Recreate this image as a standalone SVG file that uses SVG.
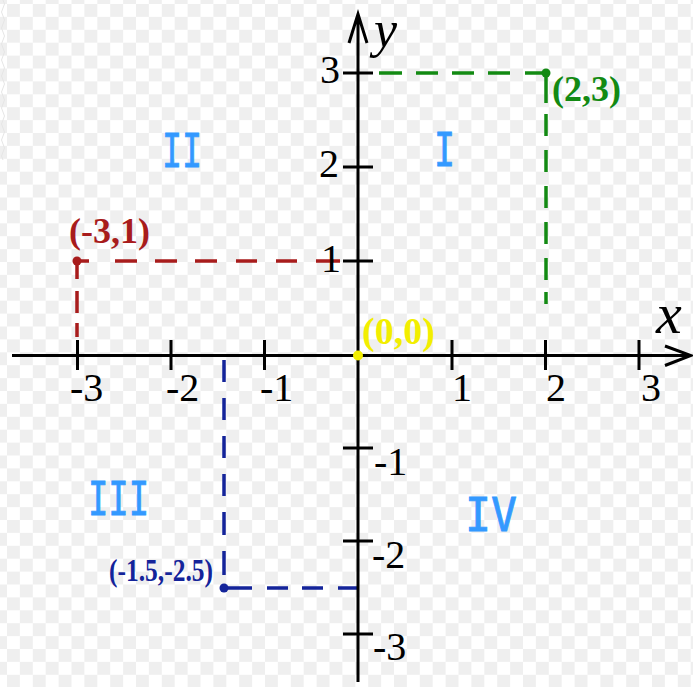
<svg xmlns="http://www.w3.org/2000/svg" width="693" height="687" viewBox="0 0 693 687">
<defs>
<pattern id="chk" x="7" y="4" width="25.8" height="25.8" patternUnits="userSpaceOnUse">
<rect x="0" y="0" width="12.9" height="12.9" fill="#efefef"/>
<rect x="12.9" y="12.9" width="12.9" height="12.9" fill="#efefef"/>
</pattern>
<style>
.ax{stroke:#000;stroke-width:3;fill:none}
.tk{font-family:"Liberation Serif","Times New Roman",serif;font-size:40px;fill:#000}
.var{font-family:"Liberation Serif","Times New Roman",serif;font-style:italic;font-size:58px;fill:#000}
.pt{font-family:"Liberation Serif","Times New Roman",serif;font-weight:bold;font-size:36px}
.q{font-family:"DejaVu Sans Mono",monospace;font-size:46px;fill:#3399ff;stroke:#3399ff;stroke-width:0.8}
.d{fill:none;stroke-width:3.5}
</style>
</defs>
<rect width="693" height="687" fill="#fff"/>
<rect width="693" height="687" fill="url(#chk)"/>
<path d="M3,0 q3,4 0,8 q-3,4 0,8 q3,4 0,8 q-3,4 0,8 q3,4 0,8 q-3,4 0,8 q3,4 0,8 q-3,4 0,8 q3,4 0,8 q-3,4 0,8 q3,4 0,8 q-3,4 0,8 q3,4 0,8 q-3,4 0,8 q3,4 0,8 q-3,4 0,8 q3,4 0,8 q-3,4 0,8 q3,4 0,8 q-3,4 0,8" fill="none" stroke="#e6e6e6" stroke-width="1"/>

<g id="connectors">
<path class="d" stroke="#138a13" d="M379,73H402M416,73H438M452,73H474M488,73H510M525,73H546M546,73V103M546,114V136M546,150V172M546,186V208M546,222V244M546,258V280M546,292V304"/>
<path class="d" stroke="#a81c1c" d="M77,261H89M115,261H137M155,261H177M195,261H217M236,261H257M276,261H297M316,261H340M77,261V279M77,291V313M77,323V337"/>
<path class="d" stroke="#14249a" d="M224,360V382M224,398V420M224,436V458M224,474V496M224,512V535M224,551V575M224,588H252M267,588H288M302,588H323M338,588H358"/>
</g>

<g id="axes">
<path class="ax" d="M12,355.5H690M665,346L691,355.5L665,365.5"/>
<path class="ax" d="M358,682V15M349,43L358,14L367,43"/>
<path class="ax" d="M77.5,340V370M171,340V370M264.5,340V370M452,340V370M545.5,340V370M639,340V370"/>
<path class="ax" d="M343,73H373M343,167H373M343,261H373M343,448H373M343,541H373M343,634H373"/>
</g>

<g id="axis-labels">
<text class="var" x="374" y="47" style="font-size:52px">y</text>
<text class="var" x="656" y="333">x</text>
</g>

<g id="tick-labels">
<text class="tk" x="70" y="401">-3</text>
<text class="tk" x="166" y="401">-2</text>
<text class="tk" x="260" y="401">-1</text>
<text class="tk" x="452" y="401">1</text>
<text class="tk" x="546" y="401">2</text>
<text class="tk" x="641" y="401">3</text>
<text class="tk" x="320" y="83">3</text>
<text class="tk" x="319" y="177">2</text>
<text class="tk" x="321" y="272">1</text>
<text class="tk" x="374" y="475">-1</text>
<text class="tk" x="372" y="568">-2</text>
<text class="tk" x="373" y="660">-3</text>
</g>

<g id="quadrant-I"><text class="q" x="434" y="166" textLength="21" lengthAdjust="spacingAndGlyphs">I</text></g>
<g id="quadrant-II"><text class="q" x="162" y="167" textLength="40" lengthAdjust="spacingAndGlyphs">II</text></g>
<g id="quadrant-III"><text class="q" x="88" y="515" textLength="61" lengthAdjust="spacingAndGlyphs">III</text></g>
<g id="quadrant-IV"><text class="q" x="465" y="531" textLength="52" lengthAdjust="spacingAndGlyphs">IV</text></g>

<g id="point-2-3">
<circle cx="546" cy="73" r="4.5" fill="#138a13"/>
<text class="pt" x="552" y="101" fill="#138a13">(2,3)</text>
</g>
<g id="point-m3-1">
<circle cx="77" cy="261" r="4.5" fill="#a81c1c"/>
<text class="pt" x="69" y="243" fill="#a81c1c">(-3,1)</text>
</g>
<g id="point-origin">
<circle cx="358" cy="355.5" r="5" fill="#f2ee00"/>
<text class="pt" x="362" y="344" fill="#f2ee00" style="font-size:38px">(0,0)</text>
</g>
<g id="point-m1.5-m2.5">
<circle cx="224" cy="588" r="4.5" fill="#14249a"/>
<text class="pt" x="109" y="581" fill="#14249a" style="font-size:32px" textLength="104" lengthAdjust="spacingAndGlyphs">(-1.5,-2.5)</text>
</g>
</svg>
